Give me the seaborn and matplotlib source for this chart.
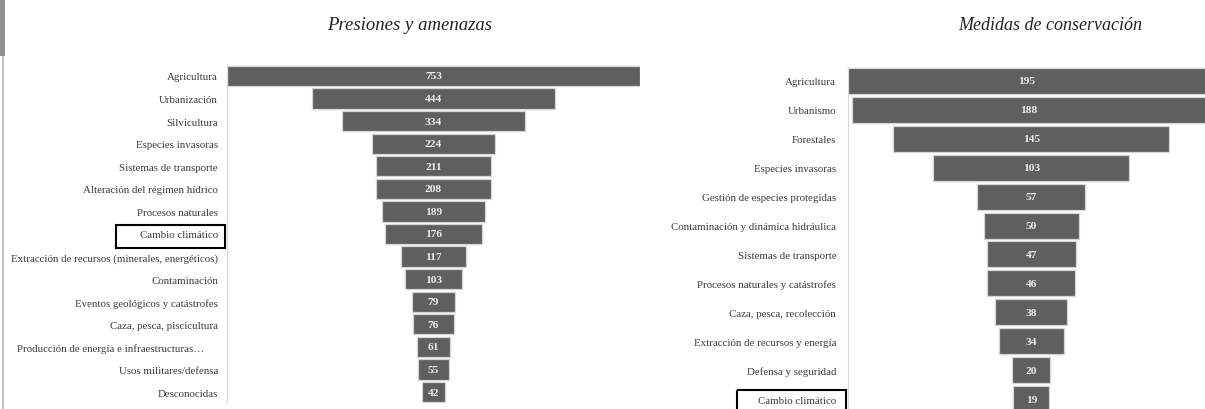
import matplotlib
matplotlib.use("Agg")
import matplotlib.pyplot as plt
from matplotlib.patches import Rectangle
from matplotlib.transforms import blended_transform_factory
import numpy as np
import seaborn as sns

# ---------------- data ----------------
pres_title = "Presiones y amenazas"
pres_cats = [
    "Agricultura", "Urbanización", "Silvicultura", "Especies invasoras",
    "Sistemas de transporte", "Alteración del régimen hídrico",
    "Procesos naturales", "Cambio climático",
    "Extracción de recursos (minerales, energéticos)", "Contaminación",
    "Eventos geológicos y catástrofes", "Caza, pesca, piscicultura",
    "Producción de energía e infraestructuras…     ", "Usos militares/defensa",
    "Desconocidas",
]
pres_vals = [753, 444, 334, 224, 211, 208, 189, 176, 117, 103, 79, 76, 61, 55, 42]

cons_title = "Medidas de conservación"
cons_cats = [
    "Agricultura", "Urbanismo", "Forestales", "Especies invasoras",
    "Gestión de especies protegidas", "Contaminación y dinámica hidráulica",
    "Sistemas de transporte", "Procesos naturales y catástrofes",
    "Caza, pesca, recolección", "Extracción de recursos y energía",
    "Defensa y seguridad", "Cambio climático",
]
cons_vals = [195, 188, 145, 103, 57, 50, 47, 46, 38, 34, 20, 19]

highlight = "Cambio climático"

# ---------------- style ----------------
sns.set_theme(style="white")
plt.rcParams["font.family"] = ["Liberation Serif", "DejaVu Serif"]

W, H = 1205, 410
fig = plt.figure(figsize=(W / 100, H / 100), dpi=100)
fig.patch.set_facecolor("white")

BAR = "#5f5f5f"
EDGE = "#d4d4d4"
TXT = "#3a3a3a"
VAL = "#ececec"


def px_axes(x0, x1, ytop, ybot):
    return fig.add_axes([x0 / W, (H - ybot) / H, (x1 - x0) / W, (ybot - ytop) / H])


def funnel(ax, cats, vals, xlim, ylim, pad):
    vals = np.asarray(vals, dtype=float)
    sns.barplot(x=vals, y=cats, order=cats, orient="y", ax=ax,
                left=-vals / 2, color=BAR, edgecolor=EDGE, linewidth=0.9,
                width=0.9, saturation=1)
    ax.bar_label(ax.containers[0], labels=[f"{int(v)}" for v in vals],
                 label_type="center", color=VAL, fontsize=8.2,
                 fontweight="bold")
    ax.set_xlim(*xlim)
    ax.set_ylim(*ylim)
    ax.set_xlabel("")
    ax.set_ylabel("")
    ax.set_xticks([])
    ax.tick_params(axis="y", length=0, pad=pad, labelsize=7.8, labelcolor=TXT)
    for s in ["top", "right", "bottom"]:
        ax.spines[s].set_visible(False)
    ax.spines["left"].set_color("#d9d9d9")
    ax.spines["left"].set_linewidth(0.9)
    ax.set_facecolor("none")


# left panel: center 433.5 px, 0.5485 px per unit
axL = px_axes(227, 640, 65.7, 404.3)
funnel(axL, pres_cats, pres_vals, (-376.5, 376.5),
       (len(pres_cats) - 0.5, -0.5), 6.5)

# right panel: center 1031.3 px, 1.9034 px per unit, clipped by figure edge
axR = px_axes(848, 1205, 67.5, 414.5)
funnel(axR, cons_cats, cons_vals, (-96.3, 91.3),
       (len(cons_cats) - 0.5, -0.5), 8.5)

# highlight boxes around "Cambio climático"
iL = pres_cats.index(highlight)
trL = blended_transform_factory(fig.transFigure, axL.transData)
axL.add_patch(Rectangle((116 / W, iL - 0.42), 109 / W, 1.02, transform=trL,
                        fill=False, edgecolor="black", linewidth=1.5,
                        clip_on=False, zorder=5))
iR = cons_cats.index(highlight)
trR = blended_transform_factory(fig.transFigure, axR.transData)
axR.add_patch(Rectangle((737 / W, iR - 0.31), 109 / W, 1.0, transform=trR,
                        fill=False, edgecolor="black", linewidth=1.5,
                        clip_on=False, zorder=5))

# titles
fig.text(410 / W, 1 - 25 / H, pres_title, ha="center", va="center",
         fontsize=13.5, style="italic", color="#222222")
fig.text(1050 / W, 1 - 25 / H, cons_title, ha="center", va="center",
         fontsize=13, style="italic", color="#222222")

# left edge strip
fig.patches.append(Rectangle((0, 1 - 57 / H), 5 / W, 57 / H, transform=fig.transFigure,
                             facecolor="#8f8f8f", edgecolor="none"))
fig.patches.append(Rectangle((2 / W, 0), 1.5 / W, 1 - 57 / H, transform=fig.transFigure,
                             facecolor="#bdbdbd", edgecolor="none"))

fig.savefig("out.png", dpi=100, facecolor="white")
